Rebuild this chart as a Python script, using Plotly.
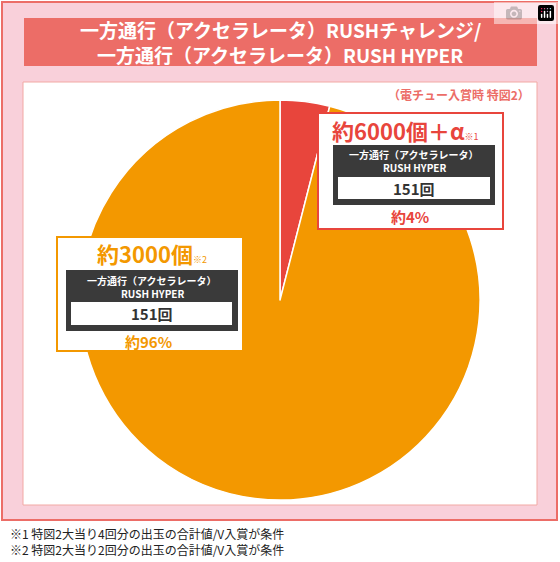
import plotly.graph_objects as go

labels = ["約6000個+α", "約3000個"]
values = [4, 96]
colors = ["#e8453c", "#f39800"]

W, H = 560, 562
def py(y): return 1 - y / H
def px(x): return x / W

fig = go.Figure()
fig.add_trace(go.Pie(labels=labels, values=values, sort=False, direction="clockwise", rotation=0,
                     marker=dict(colors=colors, line=dict(color="white", width=1.5)),
                     textinfo="none", hoverinfo="label+percent", showlegend=False,
                     domain=dict(x=[px(80), px(480)], y=[py(500), py(100)])))

F = "Noto Sans CJK JP"
shapes = []
def rect(x0, y0, x1, y1, fill, line=None, lw=0, layer="below"):
    shapes.append(dict(type="rect", xref="paper", yref="paper", x0=px(x0), x1=px(x1), y0=py(y1), y1=py(y0),
                       fillcolor=fill, line=dict(color=line or fill, width=lw), layer=layer))

rect(2, 2, 557, 520, "#f9d0da", "#ec6d67", 2)
rect(24, 18, 537, 66, "#ec6d67")
rect(23, 82, 537, 505, "white", "#f2a9a4", 1)
rect(318, 113, 503, 229, "white", "#e8453c", 2, "above")
rect(333, 145, 495, 205, "#3a3a3a", layer="above")
rect(338, 177, 490, 199, "white", layer="above")
rect(57, 237, 243, 351, "white", "#f39800", 2, "above")
rect(66, 270, 238, 331, "#3a3a3a", layer="above")
rect(71, 302, 232, 325, "white", layer="above")

ann = []
def t(x, y, s, size, color, anchor="center", bold=True):
    ann.append(dict(x=px(x), y=py(y), xref="paper", yref="paper", text=(f"<b>{s}</b>" if bold else s),
                    showarrow=False, xanchor=anchor, yanchor="middle",
                    font=dict(family=F, size=size, color=color)))

t(280, 29, "一方通行（アクセラレータ）RUSHチャレンジ/", 19, "white")
t(280, 54, "一方通行（アクセラレータ）RUSH HYPER", 19, "white")
t(532, 94, "（電チュー入賞時 特図2）", 12, "#ec6d67", "right")
t(405, 130, f"{labels[0]}<span style='font-size:9px;font-weight:normal'>※1</span>".replace("+α", "＋α"), 22, "#e8453c")
t(414, 155, "一方通行（アクセラレータ）", 10, "white")
t(414, 168, "RUSH HYPER", 10, "white")
t(414, 188, "151回", 15, "#333333")
t(410, 217, f"約{values[0]}%", 15, "#e8453c")
t(152, 253, f"{labels[1]}<span style='font-size:9px;font-weight:normal'>※2</span>", 22, "#f39800")
t(152, 280, "一方通行（アクセラレータ）", 10, "white")
t(152, 293, "RUSH HYPER", 10, "white")
t(152, 313, "151回", 15, "#333333")
t(148, 341, f"約{values[1]}%", 15, "#f39800")
t(8, 533, "※1 特図2大当り4回分の出玉の合計値/V入賞が条件", 12, "#222222", "left", False)
t(8, 549, "※2 特図2大当り2回分の出玉の合計値/V入賞が条件", 12, "#222222", "left", False)

fig.update_layout(width=W, height=H, margin=dict(l=0, r=0, t=0, b=0), paper_bgcolor="white",
                  shapes=shapes, annotations=ann)
fig.write_html("out.html")
with open("out.html", encoding="utf-8") as f:
    html = f.read()
html = html.replace("<head>", "<head><style>html,body{margin:0;padding:0;overflow:hidden}</style>", 1)
with open("out.html", "w", encoding="utf-8") as f:
    f.write(html)
